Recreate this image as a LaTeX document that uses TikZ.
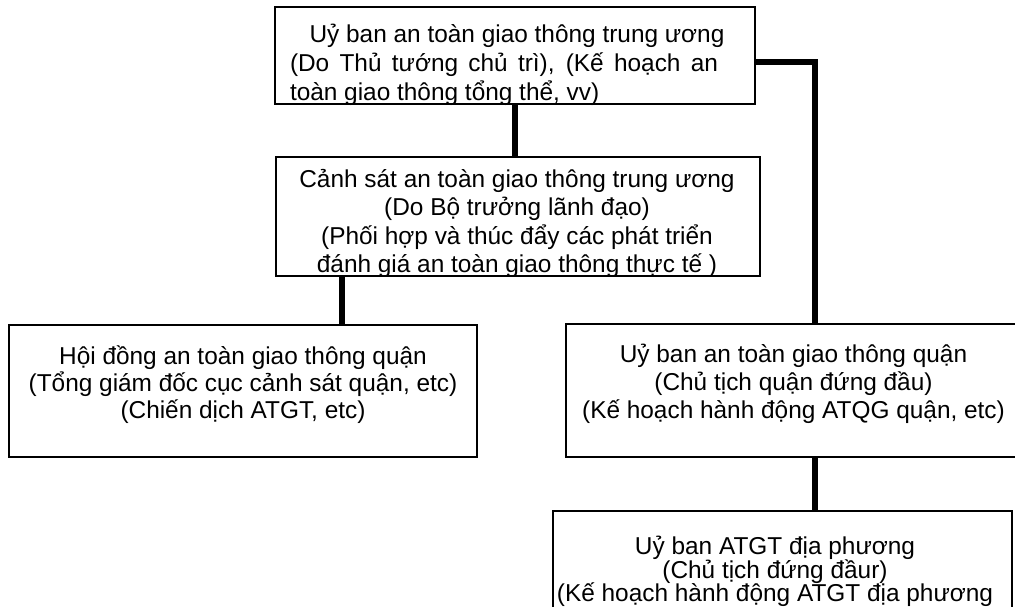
\documentclass[tikz,border=0pt]{standalone}
\usepackage{fontspec}
\setmainfont{Liberation Sans}
\begin{document}
\begin{tikzpicture}[x=1pt,y=-1pt,
  box/.style={draw=black, line width=1.3pt, fill=white, rectangle, inner sep=0pt, outer sep=0pt},
  conn/.style={draw=black, line width=6pt},
  txt/.style={anchor=base, inner sep=0pt, outer sep=0pt, font=\fontsize{24.4pt}{29pt}\selectfont},
  txtl/.style={txt, anchor=base west}]
\clip (0,0) rectangle (1015,606);
\useasboundingbox (0,0) rectangle (1015,606);
\fill[white] (0,0) rectangle (1015,606);

% boxes
\node[box, minimum width=480pt, minimum height=97pt] (top) at (515,55.5) {};
\node[box, minimum width=484pt, minimum height=119pt] (mid) at (518,216.5) {};
\node[box, minimum width=468pt, minimum height=132pt] (left) at (243,391) {};
\node[box, minimum width=455pt, minimum height=133pt] (right) at (793.5,390.5) {};
\node[box, minimum width=459pt, minimum height=129pt] (bottom) at (782.5,575.5) {};

% connector guide coordinates
\coordinate (j1) at (342,0);
\coordinate (j2) at (815,0);

% connectors
\draw[conn] (top.south) -- (top.south |- mid.north);
\draw[conn] (mid.south -| j1) -- (left.north -| j1);
\draw[conn] ([yshift=-6.5pt]top.east) -| (right.north -| j2);
\draw[conn] (right.south -| j2) -- (bottom.north -| j2);

% top box text
\node[txt] (t1) at (517,42) {Uỷ ban an toàn giao thông trung ương};
\node[txtl] (t2) at (290,71) {\makebox[428pt][s]{(Do Thủ tướng chủ trì), (Kế hoạch an}};
\node[txtl] (t3) at (290,100) {toàn giao thông tổng thể, vv)};

% middle box text (clipped by border)
\begin{scope}
\clip (mid.south west) rectangle (mid.north east);
\node[txt] (m1) at (517,187) {Cảnh sát an toàn giao thông trung ương};
\node[txt] (m2) at (517,215) {(Do Bộ trưởng lãnh đạo)};
\node[txt] (m3) at (517,244) {(Phối hợp và thúc đẩy các phát triển};
\node[txt] (m4) at (517,272) {đánh giá an toàn giao thông thực tế )};
\end{scope}
\draw[line width=1.3pt] (mid.south west) -- (mid.south east);

% left box text
\node[txt] (l1) at (243,364) {Hội đồng an toàn giao thông quận};
\node[txt] (l2) at (243,391) {(Tổng giám đốc cục cảnh sát quận, etc)};
\node[txt] (l3) at (243,418) {(Chiến dịch ATGT, etc)};

% right box text
\node[txt] (r1) at (793.5,362) {Uỷ ban an toàn giao thông quận};
\node[txt] (r2) at (793.5,390) {(Chủ tịch quận đứng đầu)};
\node[txt] (r3) at (793.5,418) {(Kế hoạch hành động ATQG quận, etc)};

% bottom box text
\node[txt] (b1) at (775,554) {Uỷ ban ATGT địa phương};
\node[txt] (b2) at (775,578) {(Chủ tịch đứng đầur)};
\node[txt] (b3) at (775,601) {(Kế hoạch hành động ATGT địa phương};
\end{tikzpicture}
\end{document}
